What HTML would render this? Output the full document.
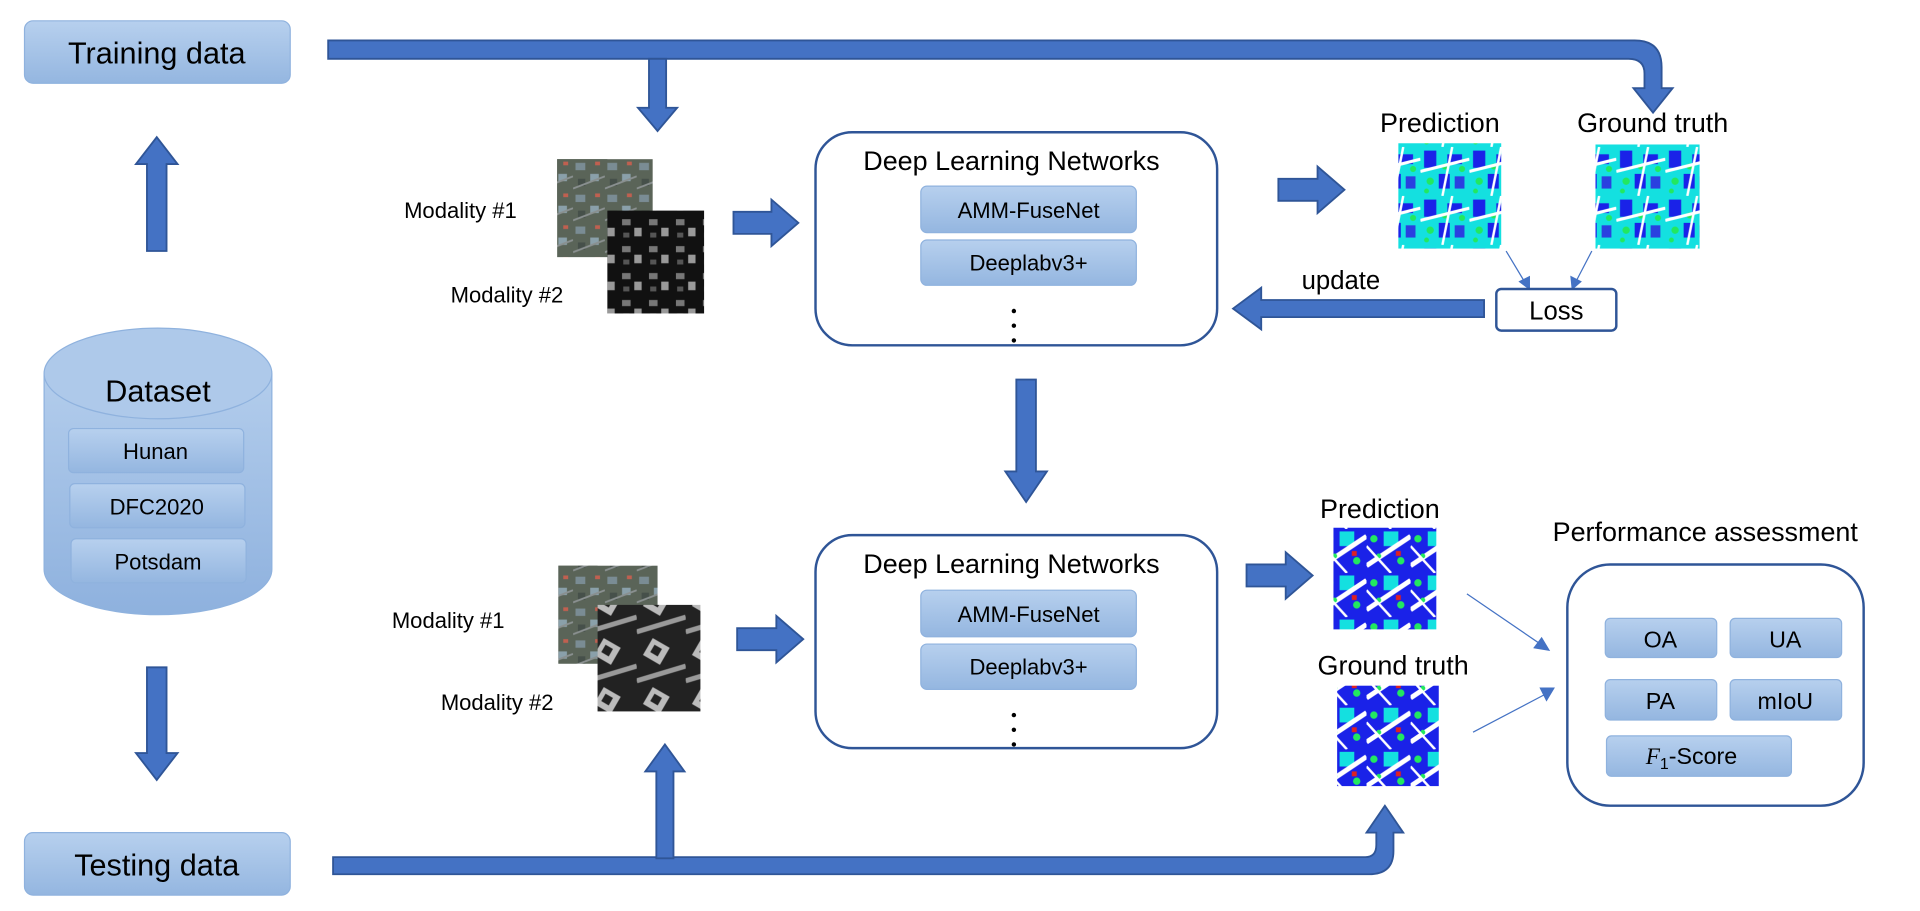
<!DOCTYPE html>
<html><head><meta charset="utf-8"><style>
html,body{margin:0;padding:0;background:#fff;width:1920px;height:911px;overflow:hidden}
svg{display:block}
text{font-family:"Liberation Sans",Arial,sans-serif;fill:#000}
</style></head><body>
<svg width="1920" height="911" viewBox="0 0 1568 744" xmlns="http://www.w3.org/2000/svg">
<defs>
<linearGradient id="g" x1="0" y1="0" x2="0" y2="1"><stop offset="0" stop-color="#b7d0ee"/><stop offset="1" stop-color="#94b6e0"/></linearGradient>
<linearGradient id="cyl" x1="0" y1="0" x2="0" y2="1"><stop offset="0" stop-color="#b3cdec"/><stop offset="1" stop-color="#8eb1de"/></linearGradient>
<pattern id="lab" width="40" height="40" patternUnits="userSpaceOnUse">
<rect width="40" height="40" fill="#14e0e0"/>
<rect x="3" y="3" width="10" height="14" fill="#1a22e8"/><rect x="22" y="6" width="12" height="8" fill="#1a22e8"/>
<rect x="15" y="22" width="9" height="12" fill="#1a22e8"/><rect x="28" y="24" width="8" height="10" fill="#2a40e0"/>
<circle cx="8" cy="28" r="3" fill="#22e860"/><circle cx="20" cy="16" r="2.5" fill="#22e860"/><circle cx="34" cy="18" r="2.5" fill="#22e860"/><circle cx="5" cy="36" r="2" fill="#22e860"/>
<path d="M0 20 L40 10" stroke="#fff" stroke-width="2.5"/><path d="M26 0 L18 40" stroke="#fff" stroke-width="2"/>
</pattern>
<pattern id="lab2" width="36" height="36" patternUnits="userSpaceOnUse">
<rect width="36" height="36" fill="#1a22e8"/>
<rect x="14" y="2" width="12" height="12" fill="#14e0e0"/><path d="M0 30 L36 6" stroke="#fff" stroke-width="4"/>
<circle cx="6" cy="8" r="3" fill="#22e860"/><circle cx="28" cy="26" r="3" fill="#22e860"/><circle cx="10" cy="22" r="2" fill="#22e860"/>
<path d="M0 14 L20 36" stroke="#fff" stroke-width="2"/><rect x="24" y="18" width="4" height="4" fill="#e02020"/>
</pattern>
<pattern id="rgb" width="26" height="26" patternUnits="userSpaceOnUse">
<rect width="26" height="26" fill="#5a6458"/><rect x="2" y="3" width="8" height="6" fill="#7a8c94"/><rect x="14" y="12" width="7" height="6" fill="#8aa0aa"/>
<rect x="18" y="2" width="4" height="3" fill="#c06050"/><rect x="4" y="16" width="6" height="6" fill="#46504a"/><path d="M0 24 L26 14" stroke="#8a9090" stroke-width="1.5"/>
</pattern>
<pattern id="dsm" width="22" height="22" patternUnits="userSpaceOnUse">
<rect width="22" height="22" fill="#111"/><rect x="2" y="3" width="7" height="5" fill="#777"/><rect x="12" y="10" width="6" height="7" fill="#999"/><rect x="3" y="14" width="5" height="4" fill="#555"/>
</pattern>
<pattern id="dsm2" width="40" height="40" patternUnits="userSpaceOnUse">
<rect width="40" height="40" fill="#222"/><rect x="8" y="4" width="16" height="16" fill="#bbb" transform="rotate(30 16 12)"/><rect x="12" y="8" width="7" height="7" fill="#222" transform="rotate(30 16 12)"/><path d="M0 36 L40 24" stroke="#999" stroke-width="4"/>
</pattern>
</defs>

<!-- Training / Testing -->
<rect x="20" y="17" width="217" height="51" rx="7" fill="url(#g)" stroke="#8fb2de"/>
<text x="128" y="52" font-size="25" text-anchor="middle">Training data</text>
<rect x="20" y="680" width="217" height="51" rx="7" fill="url(#g)" stroke="#8fb2de"/>
<text x="128" y="715" font-size="25" text-anchor="middle">Testing data</text>

<g fill="#4472c4" stroke="#2f5597" stroke-width="1.5">
<path d="M120 205 L120 134 L111 134 L128 112 L145 134 L136 134 L136 205 Z"/>
<path d="M120 545 L136 545 L136 615 L145 615 L128 637 L111 615 L120 615 Z"/>
<path d="M268 33 L1335 33 Q1357 33 1357 55 L1357 72 L1366 72 L1350 92 L1334 72 L1343 72 L1343 60 Q1343 48 1330 48 L268 48 Z"/>
<path d="M530 48 L544 48 L544 88 L553 88 L537 107 L521 88 L530 88 Z"/>
<path d="M599 173 L630 173 L630 163 L652 182 L630 201 L630 191 L599 191 Z"/>
<path d="M1044 146 L1076 146 L1076 136 L1098 155 L1076 174 L1076 164 L1044 164 Z"/>
<path d="M1212 245 L1030 245 L1030 235 L1007 252 L1030 269 L1030 259 L1212 259 Z"/>
<path d="M830 310 L846 310 L846 385 L855 385 L838 410 L821 385 L830 385 Z"/>
<path d="M602 513 L634 513 L634 503 L656 522 L634 541 L634 531 L602 531 Z"/>
<path d="M1018 461 L1050 461 L1050 451 L1072 470 L1050 489 L1050 479 L1018 479 Z"/>
<path d="M272 700 L1115 700 Q1124 700 1124 690 L1124 680 L1116 680 L1131 658 L1146 680 L1138 680 L1138 695 Q1138 714 1118 714 L272 714 Z"/>
<path d="M536 701 L536 630 L527 630 L543 608 L559 630 L550 630 L550 701 Z"/>
</g>

<!-- Dataset cylinder -->
<path d="M36 305 L36 465 A93 37 0 0 0 222 465 L222 305" fill="url(#cyl)" stroke="#8fb2de"/>
<ellipse cx="129" cy="305" rx="93" ry="37" fill="#aec9ea" stroke="#8fb2de"/>
<text x="129" y="328" font-size="25" text-anchor="middle">Dataset</text>
<rect x="56" y="350" width="143" height="36" rx="4" fill="url(#g)" stroke="#8fb2de"/>
<text x="127" y="375" font-size="18" text-anchor="middle">Hunan</text>
<rect x="57" y="395" width="143" height="36" rx="4" fill="url(#g)" stroke="#8fb2de"/>
<text x="128" y="420" font-size="18" text-anchor="middle">DFC2020</text>
<rect x="58" y="440" width="143" height="36" rx="4" fill="url(#g)" stroke="#8fb2de"/>
<text x="129" y="465" font-size="18" text-anchor="middle">Potsdam</text>

<!-- Modalities top -->
<rect x="455" y="130" width="78" height="80" fill="url(#rgb)"/>
<rect x="496" y="172" width="79" height="84" fill="url(#dsm)"/>
<rect x="455" y="130" width="41" height="42" fill="url(#rgb)"/>
<text x="330" y="178" font-size="18">Modality #1</text>
<text x="368" y="247" font-size="18">Modality #2</text>
<!-- Modalities bottom -->
<rect x="456" y="462" width="81" height="80" fill="url(#rgb)"/>
<rect x="488" y="494" width="84" height="87" fill="url(#dsm2)"/>
<rect x="456" y="462" width="32" height="80" fill="url(#rgb)"/>
<text x="320" y="513" font-size="18">Modality #1</text>
<text x="360" y="580" font-size="18">Modality #2</text>

<!-- DLN boxes -->
<g>
<rect x="666" y="108" width="328" height="174" rx="30" fill="#fff" stroke="#2f5597" stroke-width="2"/>
<text x="705" y="139" font-size="22">Deep Learning Networks</text>
<rect x="752" y="152" width="176" height="38" rx="5" fill="url(#g)" stroke="#8fb2de"/>
<text x="840" y="178" font-size="18" text-anchor="middle">AMM-FuseNet</text>
<rect x="752" y="196" width="176" height="37" rx="5" fill="url(#g)" stroke="#8fb2de"/>
<text x="840" y="221" font-size="18" text-anchor="middle">Deeplabv3+</text>
<circle cx="828" cy="254" r="1.8"/><circle cx="828" cy="266" r="1.8"/><circle cx="828" cy="278" r="1.8"/>
</g>
<g>
<rect x="666" y="437" width="328" height="174" rx="30" fill="#fff" stroke="#2f5597" stroke-width="2"/>
<text x="705" y="468" font-size="22">Deep Learning Networks</text>
<rect x="752" y="482" width="176" height="38" rx="5" fill="url(#g)" stroke="#8fb2de"/>
<text x="840" y="508" font-size="18" text-anchor="middle">AMM-FuseNet</text>
<rect x="752" y="526" width="176" height="37" rx="5" fill="url(#g)" stroke="#8fb2de"/>
<text x="840" y="551" font-size="18" text-anchor="middle">Deeplabv3+</text>
<circle cx="828" cy="584" r="1.8"/><circle cx="828" cy="596" r="1.8"/><circle cx="828" cy="608" r="1.8"/>
</g>

<!-- Top prediction/GT -->
<text x="1127" y="108" font-size="22">Prediction</text>
<rect x="1142" y="117" width="84" height="86" fill="url(#lab)"/>
<text x="1288" y="108" font-size="22">Ground truth</text>
<rect x="1303" y="118" width="85" height="85" fill="url(#lab)"/>
<g stroke="#4472c4" stroke-width="1" fill="#4472c4">
<line x1="1230" y1="205" x2="1245" y2="230"/><path d="M1241 230 L1249 236 L1249 226 Z"/>
<line x1="1300" y1="205" x2="1287" y2="230"/><path d="M1283 226 L1284 236 L1291 230 Z"/>
<line x1="1198" y1="485" x2="1258" y2="526"/><path d="M1253 529 L1265 531 L1259 521 Z"/>
<line x1="1203" y1="598" x2="1262" y2="567"/><path d="M1258 562 L1269 562 L1263 572 Z"/>
</g>
<rect x="1222" y="236" width="98" height="34" rx="4" fill="#fff" stroke="#2f5597" stroke-width="2"/>
<text x="1271" y="261" font-size="21" text-anchor="middle">Loss</text>
<text x="1063" y="236" font-size="21">update</text>

<!-- Bottom prediction/GT -->
<text x="1078" y="423" font-size="22">Prediction</text>
<rect x="1089" y="431" width="84" height="83" fill="url(#lab2)"/>
<text x="1076" y="551" font-size="22">Ground truth</text>
<rect x="1092" y="560" width="83" height="82" fill="url(#lab2)"/>

<!-- Performance -->
<text x="1268" y="442" font-size="22">Performance assessment</text>
<rect x="1280" y="461" width="242" height="197" rx="35" fill="#fff" stroke="#2f5597" stroke-width="2"/>
<rect x="1311" y="505" width="91" height="32" rx="4" fill="url(#g)" stroke="#8fb2de"/>
<text x="1356" y="529" font-size="19" text-anchor="middle">OA</text>
<rect x="1413" y="505" width="91" height="32" rx="4" fill="url(#g)" stroke="#8fb2de"/>
<text x="1458" y="529" font-size="19" text-anchor="middle">UA</text>
<rect x="1311" y="555" width="91" height="33" rx="4" fill="url(#g)" stroke="#8fb2de"/>
<text x="1356" y="579" font-size="19" text-anchor="middle">PA</text>
<rect x="1413" y="555" width="91" height="33" rx="4" fill="url(#g)" stroke="#8fb2de"/>
<text x="1458" y="579" font-size="19" text-anchor="middle">mIoU</text>
<rect x="1312" y="601" width="151" height="33" rx="4" fill="url(#g)" stroke="#8fb2de"/>
<text x="1344" y="624" font-size="19"><tspan font-style="italic" font-family="Liberation Serif">F</tspan><tspan font-size="13" dy="4">1</tspan><tspan dy="-4">-Score</tspan></text>
</svg>
</body></html>
